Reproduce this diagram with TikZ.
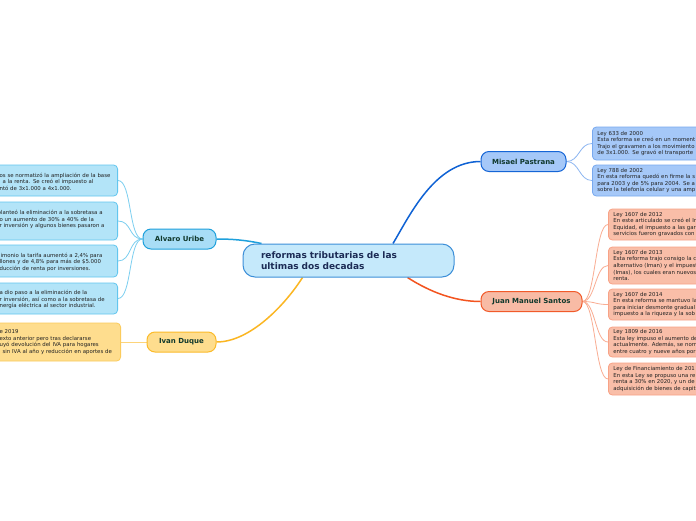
\documentclass[tikz,border=0pt]{standalone}
\usepackage{fontspec}
\setmainfont{DejaVu Sans}
\usetikzlibrary{calc,backgrounds}
\definecolor{centerFill}{HTML}{C5E9FB}
\definecolor{centerBorder}{HTML}{3D8FD8}
\definecolor{centerText}{HTML}{1C2B55}
\definecolor{labelText}{HTML}{10382C}
\definecolor{leafText}{HTML}{222222}
\definecolor{uFill}{HTML}{A8DDF6}
\definecolor{uBorder}{HTML}{1EA0DC}
\definecolor{uLeafFill}{HTML}{B3E4F8}
\definecolor{uLeafBorder}{HTML}{62C6EF}
\definecolor{uLine}{HTML}{1EA0DC}
\definecolor{uSub}{HTML}{7CCFF0}
\definecolor{dFill}{HTML}{FEDD8E}
\definecolor{dBorder}{HTML}{FBBB2A}
\definecolor{dLeafBorder}{HTML}{FBCB5C}
\definecolor{dLine}{HTML}{FBB622}
\definecolor{dSub}{HTML}{FDD47A}
\definecolor{mFill}{HTML}{A5C8F8}
\definecolor{mBorder}{HTML}{1565D6}
\definecolor{mLeafBorder}{HTML}{78A9EF}
\definecolor{mLine}{HTML}{0F62D4}
\definecolor{mSub}{HTML}{8DB6F1}
\definecolor{sFill}{HTML}{F8BBA5}
\definecolor{sBorder}{HTML}{F15A2A}
\definecolor{sLeafFill}{HTML}{F9BEA8}
\definecolor{sLeafBorder}{HTML}{F8A286}
\definecolor{sLine}{HTML}{F3541F}
\definecolor{sSub}{HTML}{F9AD93}
\tikzset{
  leafbox/.style={draw, rounded corners=4pt, line width=0.8pt, inner xsep=5pt, inner ysep=2pt,
    align=left, font=\fontsize{5.4}{6.6}\selectfont, text=leafText},
  leftleaf/.style={leafbox, anchor=east, text width=113pt},
  rightleaf/.style={leafbox, anchor=west, text width=150pt},
  branchbox/.style={draw, rounded corners=8pt, line width=1pt, minimum height=20pt, inner sep=0pt,
    font=\bfseries\fontsize{7}{8}\selectfont, text=labelText},
  mainline/.style={line width=1.5pt},
  subline/.style={line width=0.8pt}
}
\begin{document}
\begin{tikzpicture}[x=1pt,y=-1pt]
\useasboundingbox (0,0) rectangle (696,520);

% center
\node[draw=centerBorder, fill=centerFill, line width=1pt, rounded corners=12pt,
  minimum width=211pt, minimum height=33pt, text width=175pt, inner xsep=18pt, inner ysep=0pt,
  align=left, font=\bfseries\fontsize{9}{11}\selectfont, text=centerText] (c) at (348.5,260.5)
  {reformas tributarias de las\\ultimas dos decadas};

% branches
\node[branchbox, fill=uFill, draw=uBorder, minimum width=73pt] (u) at (179.5,239) {Alvaro Uribe};
\node[branchbox, fill=dFill, draw=dBorder, minimum width=69pt] (d) at (181.5,342) {Ivan Duque};
\node[branchbox, fill=mFill, draw=mBorder, minimum width=85pt] (m) at (523.5,161.5) {Misael Pastrana};
\node[branchbox, fill=sFill, draw=sBorder, minimum width=101pt] (s) at (531.5,301.5) {Juan Manuel Santos};

% Uribe leaves
\node[leftleaf, fill=uLeafFill, draw=uLeafBorder, minimum height=31pt] (u1) at (118,180.5)
  {~\\os se normatizó la ampliación de la base\\\hspace*{3pt}a la renta. Se creó el impuesto al\\ntó de 3x1.000 a 4x1.000.};
\node[leftleaf, fill=uLeafFill, draw=uLeafBorder, minimum height=38pt] (u2) at (118,221)
  {~\\\hspace*{-2pt}planteó la eliminación a la sobretasa a\\o un aumento de 30\% a 40\% de la\\r inversión y algunos bienes pasaron a\\~};
\node[leftleaf, fill=uLeafFill, draw=uLeafBorder, minimum height=32pt] (u3) at (118,261)
  {~\\\hspace*{1pt}imonio la tarifa aumentó a 2,4\% para\\llones y de 4,8\% para más de \$5.000\\ducción de renta por inversiones.};
\node[leftleaf, fill=uLeafFill, draw=uLeafBorder, minimum height=31pt] (u4) at (118,298.5)
  {~\\a dio paso a la eliminación de la\\r inversión, así como a la sobretasa de\\nergía eléctrica al sector industrial.};

% Duque leaf
\node[leafbox, anchor=east, text width=116pt, fill=dFill, draw=dLeafBorder, minimum height=38pt] (d1) at (121,342)
  {e 2019\\exto anterior pero tras declararse\\uyó devolución del IVA para hogares\\\hspace*{3pt}sin IVA al año y reducción en aportes de};

% Misael leaves
\node[rightleaf, fill=mFill, draw=mLeafBorder, minimum height=33pt] (m1) at (592,143.5)
  {Ley 633 de 2000\\Esta reforma se creó en un moment\\Trajo el gravamen a los movimiento\\de 3x1.000. Se gravó el transporte};
\node[rightleaf, fill=mFill, draw=mLeafBorder, minimum height=31pt] (m2) at (592,180.5)
  {Ley 788 de 2002\\En esta reforma quedó en firme la s\\para 2003 y de 5\% para 2004. Se a\\sobre la telefonía celular y una amp};

% Santos leaves
\node[rightleaf, fill=sLeafFill, draw=sLeafBorder, minimum height=31pt] (s1) at (608,224.5)
  {Ley 1607 de 2012\\En este articulado se creó el Im\\Equidad, el impuesto a las gar\\servicios fueron gravados con};
\node[rightleaf, fill=sLeafFill, draw=sLeafBorder, minimum height=37pt] (s2) at (608,265.5)
  {Ley 1607 de 2013\\Esta reforma trajo consigo la c\\alternativo (Iman) y el impuest\\(Imas), los cuales eran nuevos\\renta.};
\node[rightleaf, fill=sLeafFill, draw=sLeafBorder, minimum height=31pt] (s3) at (608,304.5)
  {Ley 1607 de 2014\\En esta reforma se mantuvo la\\para iniciar desmonte gradual\\impuesto a la riqueza y la sob};
\node[rightleaf, fill=sLeafFill, draw=sLeafBorder, minimum height=30pt] (s4) at (608,342)
  {Ley 1809 de 2016\\Esta ley impuso el aumento de\\actualmente. Además, se norm\\entre cuatro y nueve años por};
\node[rightleaf, fill=sLeafFill, draw=sLeafBorder, minimum height=32pt] (s5) at (608,379)
  {Ley de Financiamiento de 201\\En esta Ley se propuso una re\\renta a 30\% en 2020, y un de\\adquisición de bienes de capit};

\begin{scope}[on background layer]
  \fill[white] (0,0) rectangle (696,520);
  % main connectors
  \draw[mainline, uLine] ($(c.north west)+(19,0)$) .. controls (245,240) and (232,239) .. (u.east);
  \draw[mainline, mLine] ($(c.north)+(44.5,0)$) .. controls (410,215) and (435,161.5) .. (m.west);
  \draw[mainline, sLine] ($(c.south)+(59,0)$) .. controls (430,292) and (455,301.5) .. (s.west);
  \draw[mainline, dLine] ($(c.south)+(-46,0)$) .. controls (285,305) and (250,342) .. (d.east);
  % sub connectors
  \foreach \n in {u1,u2,u3,u4}
    \draw[subline, uSub] (u.west) .. controls +(-14,0) and +(14,0) .. (\n.east);
  \draw[subline, dSub] (d.west) -- (d1.east);
  \foreach \n in {m1,m2}
    \draw[subline, mSub] (m.east) .. controls +(13,0) and +(-13,0) .. (\n.west);
  \foreach \n in {s1,s2,s3,s4,s5}
    \draw[subline, sSub] (s.east) .. controls +(13,0) and +(-13,0) .. (\n.west);
\end{scope}
\end{tikzpicture}
\end{document}
